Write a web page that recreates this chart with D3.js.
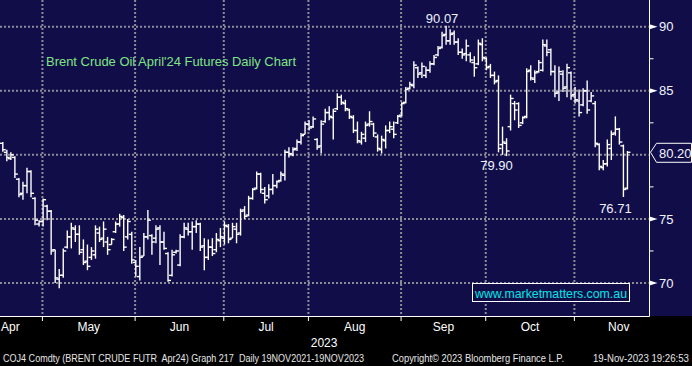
<!DOCTYPE html>
<html><head><meta charset="utf-8">
<script src="https://cdn.jsdelivr.net/npm/d3@7"></script>
<style>html,body{margin:0;padding:0;background:#000;overflow:hidden}text{white-space:pre}</style>
</head><body><svg id="c" width="692" height="366"></svg>
<script>
// ---- data ----
const firstDay = "2023-04-14", lastDay = "2023-11-17";
const opens  = [80.9,80.2,79.7,79.8,78.1,77.0,77.6,78.7,76.6,74.6,74.8,76.0,75.6,72.6,70.3,70.6,72.8,73.6,74.2,73.8,72.6,71.7,72.0,72.2,73.9,73.5,73.2,73.0,74.0,74.6,75.1,73.6,73.8,71.6,70.5,72.1,73.6,73.7,73.5,74.3,73.2,72.3,70.6,72.4,71.4,73.6,74.2,74.0,74.4,74.6,72.9,72.0,72.8,72.6,73.3,73.5,74.4,73.5,74.2,73.9,75.7,75.3,76.6,77.4,78.5,77.0,76.8,77.3,77.6,78.0,78.4,80.2,80.0,80.5,81.0,81.6,82.4,82.2,81.2,80.7,82.6,83.3,82.9,83.6,84.5,84.0,83.5,82.9,81.9,81.0,81.3,82.4,82.4,81.4,80.4,81.1,81.9,82.0,82.5,83.1,84.1,85.2,85.4,86.8,86.4,86.2,86.6,87.1,87.8,88.4,89.4,88.9,89.5,88.8,88.0,87.9,87.8,87.2,87.1,88.6,87.5,86.9,86.2,85.8,80.8,80.9,82.2,84.0,84.0,82.5,83.0,86.6,85.9,86.5,86.6,88.5,88.2,86.5,84.9,86.3,85.3,86.4,84.7,84.2,83.9,85.0,84.2,84.0,80.8,79.0,79.3,80.5,81.7,82.0,80.7,77.4];
const highs  = [81.0,80.4,80.2,79.9,78.2,77.9,79.0,78.8,76.7,74.9,76.6,76.1,75.7,72.6,71.1,72.7,74.1,74.7,74.5,74.5,73.4,73.0,72.8,74.5,74.4,74.8,73.6,73.5,74.8,75.4,75.3,75.0,74.0,71.8,72.8,73.9,75.7,73.8,74.5,74.5,74.0,72.4,72.6,72.6,73.8,74.7,74.7,74.8,74.9,74.7,73.5,73.4,73.5,73.9,74.3,74.8,74.6,74.7,74.7,75.8,76.0,76.8,77.4,78.7,78.6,77.5,77.7,78.5,78.0,78.7,80.4,80.6,80.6,81.2,81.7,82.6,82.7,83.0,81.3,82.7,83.6,83.8,83.6,84.8,84.7,84.3,83.6,83.1,82.6,81.8,82.6,83.4,82.5,81.6,81.5,82.3,82.6,82.6,83.1,84.1,85.3,85.7,87.3,86.9,87.2,86.9,87.3,87.8,88.5,89.6,90.07,89.8,89.7,89.1,88.3,89.0,88.0,87.7,89.0,89.1,87.6,87.1,86.5,86.2,82.2,81.3,84.7,84.2,84.1,83.0,86.75,87.0,86.6,87.4,89.0,89.0,88.3,87.0,86.9,86.6,87.1,86.5,85.3,85.1,85.2,85.8,84.9,84.2,80.9,79.6,81.2,81.9,83.0,82.1,80.8,80.3];
const lows   = [80.25,79.5,79.6,78.2,76.7,76.5,77.0,76.7,74.5,74.4,74.4,74.9,72.2,70.0,69.6,70.4,72.7,72.7,73.2,72.2,71.4,71.0,71.8,71.9,73.2,72.8,72.2,73.0,73.9,74.4,72.5,73.4,71.5,70.5,70.2,72.1,73.4,72.2,73.1,71.4,72.6,70.1,70.5,72.3,71.3,73.5,73.7,72.6,73.9,72.5,71.0,71.8,72.1,72.4,72.8,73.0,73.1,73.5,73.1,73.7,75.0,75.2,76.5,77.3,77.0,76.2,76.6,76.9,77.4,77.9,78.0,79.8,79.9,80.3,80.8,81.6,81.9,82.1,80.4,80.1,82.5,82.7,81.2,83.5,83.9,83.4,82.8,81.7,80.9,80.8,81.0,82.2,81.4,80.25,80.1,80.5,81.7,81.3,82.4,83.0,84.0,85.1,85.2,86.0,86.0,86.0,86.4,87.0,87.7,88.3,88.6,88.6,88.6,87.8,87.5,87.3,87.2,86.1,87.0,87.3,86.6,86.0,85.5,80.2,80.0,79.9,81.9,82.7,82.1,82.4,82.85,85.8,85.6,86.4,86.5,87.7,86.2,84.5,84.2,84.9,84.5,84.3,84.0,83.0,83.8,83.2,84.1,80.6,78.8,78.8,79.1,79.6,81.5,80.8,76.71,77.3];
const closes = [80.4,79.8,80.0,78.5,76.9,77.6,78.7,77.0,74.9,74.8,76.5,75.6,72.5,70.4,70.6,72.5,73.6,74.3,73.8,72.4,71.6,71.3,72.5,74.2,73.4,74.2,72.6,73.4,74.6,75.2,72.8,74.8,71.8,71.3,72.0,73.6,74.9,73.2,74.2,73.2,72.7,70.2,72.2,72.5,73.6,74.3,74.0,74.4,74.6,72.8,72.0,72.8,72.3,73.4,73.6,74.5,73.4,74.4,73.8,75.6,75.2,76.6,77.3,78.5,77.3,76.5,77.3,77.6,77.9,78.5,80.2,80.1,80.4,81.0,81.5,82.4,82.1,82.8,80.6,82.4,83.3,83.0,83.4,84.5,84.1,83.6,83.0,81.9,81.1,81.6,82.3,82.6,81.7,80.5,81.2,81.9,82.2,81.6,83.0,84.0,85.1,85.5,87.0,86.3,86.9,86.6,87.1,87.6,88.3,89.3,88.9,89.4,88.8,88.0,87.8,88.5,87.4,86.8,88.7,87.6,86.8,86.2,85.7,80.5,81.0,80.3,84.4,83.5,82.3,82.9,86.5,86.0,86.4,87.2,88.6,88.0,86.5,84.8,86.5,85.2,86.8,84.6,84.3,83.3,85.0,83.5,84.6,80.9,79.1,79.3,80.8,81.6,82.0,81.0,77.3,80.20];
const monthStarts = ["2023-04-01","2023-05-01","2023-06-01","2023-07-01","2023-08-01","2023-09-01","2023-10-01","2023-11-01","2023-12-01"];
const monthLabels = ["Apr","May","Jun","Jul","Aug","Sep","Oct","Nov"];
const yearLabel = "2023";
const yTicks = [70, 75, 80, 85, 90];
const yMinorTicks = [72.5, 77.5, 82.5, 87.5];
const lastPrice = 80.20;
const annoText  = ["90.07", "79.90", "76.71"];
const annoDate  = ["2023-09-15", "2023-10-06", "2023-11-16"];
const annoValue = [90.07, 79.90, 76.71];
const titleText = "Brent Crude Oil April'24 Futures Daily Chart";
const watermark = "www.marketmatters.com.au";
const footerLeft = "COJ4 Comdty (BRENT CRUDE FUTR  Apr24) Graph 217  Daily 19NOV2021-19NOV2023";
const footerMid = "Copyright\u00A9 2023 Bloomberg Finance L.P.";
const footerRight = "19-Nov-2023 19:26:53";

// ---- layout ----
const W = 692, H = 366, plotBottom = 316, axisX = 649.5;
const NAVY = "#100d48", GRID = "#8c8c98";
const parse = d3.timeParse("%Y-%m-%d");
const isWk = d => d.getDay() !== 0 && d.getDay() !== 6;
const start = parse(firstDay);
const days = d3.timeDay.range(start, d3.timeDay.offset(parse(lastDay), 1)).filter(isWk);
const dayKey = d3.timeFormat("%Y-%m-%d");
const idxOf = new Map(days.map((d, i) => [dayKey(d), i]));
// weekday index relative to first day (can be negative / beyond data)
function wkIndex(date) {
  if (date >= start) return d3.timeDay.range(start, date).filter(isWk).length;
  return -d3.timeDay.range(date, start).filter(isWk).length;
}
const n = days.length;
const x = d3.scaleLinear().domain([0, n - 1]).range([2.8, 2.8 + 4.03 * (n - 1)]);
const y = d3.scaleLinear().domain([70, 90]).range([283, 26.7]);
const gridShift = -4.7;

const svg = d3.select("#c");
svg.append("rect").attr("width", W).attr("height", plotBottom).attr("fill", NAVY);
svg.append("rect").attr("y", plotBottom).attr("width", W).attr("height", H - plotBottom).attr("fill", "#000");

// month boundaries
const bounds = monthStarts.map(s => x(wkIndex(parse(s))) + gridShift);

// grid
const grid = svg.append("g").attr("stroke", GRID).attr("stroke-width", 2).attr("stroke-dasharray", "2,2");
yTicks.forEach(v => grid.append("line").attr("x1", 0).attr("x2", axisX - 1).attr("y1", y(v)).attr("y2", y(v)));
bounds.slice(1, -1).forEach(bx => grid.append("line").attr("x1", bx).attr("x2", bx).attr("y1", 0).attr("y2", plotBottom));

// OHLC bars
const bars = svg.append("g").attr("stroke", "#fff").attr("stroke-width", 1.4);
d3.range(n).forEach(i => {
  const cx = x(i);
  const g = bars.append("g");
  g.append("line").attr("x1", cx).attr("x2", cx).attr("y1", y(highs[i])).attr("y2", y(lows[i]));
  g.append("line").attr("x1", cx - 3).attr("x2", cx).attr("y1", y(opens[i])).attr("y2", y(opens[i]));
  g.append("line").attr("x1", cx).attr("x2", cx + 3).attr("y1", y(closes[i])).attr("y2", y(closes[i]));
});

// annotations
const annoDx = [-4, -10, -8], annoDy = [-3, 14, 16];
annoText.forEach((t, k) => {
  svg.append("text").attr("x", x(idxOf.get(annoDate[k])) + annoDx[k]).attr("y", y(annoValue[k]) + annoDy[k])
    .attr("text-anchor", "middle").attr("fill", "#eef2ff")
    .attr("font-family", "Liberation Sans, Arial, sans-serif").attr("font-size", 13).text(t);
});

// title
svg.append("text").attr("x", 46).attr("y", 66).attr("fill", "#80e484")
  .attr("font-family", "Liberation Sans, Arial, sans-serif").attr("font-size", 13)
  .attr("textLength", 250).attr("lengthAdjust", "spacingAndGlyphs").text(titleText);

// watermark
svg.append("rect").attr("x", 472.5).attr("y", 283.5).attr("width", 157).attr("height", 18)
  .attr("fill", NAVY).attr("stroke", "#fff").attr("stroke-width", 1);
svg.append("text").attr("x", 475).attr("y", 297.5).attr("fill", "#00e6e6")
  .attr("font-family", "Liberation Sans, Arial, sans-serif").attr("font-size", 13)
  .attr("textLength", 152).attr("lengthAdjust", "spacingAndGlyphs").text(watermark);

// right axis
svg.append("line").attr("x1", axisX).attr("x2", axisX).attr("y1", 0).attr("y2", plotBottom + 0.5)
  .attr("stroke", "#fff").attr("stroke-width", 1);
yMinorTicks.forEach(v => svg.append("line").attr("x1", axisX).attr("x2", axisX + 4)
  .attr("y1", y(v)).attr("y2", y(v)).attr("stroke", "#fff").attr("stroke-width", 1));
yTicks.filter(v => Math.abs(v - lastPrice) > 2).forEach(v => {
  const yy = y(v);
  svg.append("path").attr("d", `M${axisX},${yy - 2.5}L${axisX + 8},${yy}L${axisX},${yy + 2.5}Z`).attr("fill", "#fff");
  svg.append("text").attr("x", 659).attr("y", yy).attr("dy", "0.36em").attr("fill", "#f2f4ff")
    .attr("font-family", "Liberation Sans, Arial, sans-serif").attr("font-size", 13).text(v);
});
// last price box
const ly = y(lastPrice);
svg.append("path").attr("d", `M${axisX + 1},${ly}L${axisX + 7},${ly - 9}L${W - 0.5},${ly - 9}L${W - 0.5},${ly + 10}L${axisX + 7},${ly + 10}Z`)
  .attr("fill", NAVY).attr("stroke", "#fff").attr("stroke-width", 1);
svg.append("text").attr("x", 659).attr("y", ly + 1).attr("dy", "0.36em").attr("fill", "#f2f4ff")
  .attr("font-family", "Liberation Sans, Arial, sans-serif").attr("font-size", 13).text(lastPrice.toFixed(2));

// bottom axis
svg.append("line").attr("x1", 0).attr("x2", axisX).attr("y1", plotBottom + 0.5).attr("y2", plotBottom + 0.5)
  .attr("stroke", "#fff").attr("stroke-width", 1);
bounds.slice(1, -1).forEach(bx => svg.append("line").attr("x1", bx).attr("x2", bx)
  .attr("y1", plotBottom).attr("y2", plotBottom + 5).attr("stroke", "#fff").attr("stroke-width", 1));
monthLabels.forEach((m, k) => {
  const mid = (bounds[k] + bounds[k + 1]) / 2;
  const t = svg.append("text").attr("y", 331).attr("fill", "#fff")
    .attr("font-family", "Liberation Sans, Arial, sans-serif").attr("font-size", 12).text(m);
  if (mid < 12) t.attr("x", 1).attr("text-anchor", "start");
  else t.attr("x", mid).attr("text-anchor", "middle");
});
svg.append("text").attr("x", x((n - 1) / 2) + 9).attr("y", 346.5).attr("text-anchor", "middle").attr("fill", "#fff")
  .attr("font-family", "Liberation Sans, Arial, sans-serif").attr("font-size", 12).text(yearLabel);

// footer
const foot = [[footerLeft, 3, 361], [footerMid, 392, 172], [footerRight, 593, 96]];
foot.forEach(([t, fx, len]) => svg.append("text").attr("x", fx).attr("y", 362).attr("fill", "#e6e6e6")
  .attr("font-family", "Liberation Sans, Arial, sans-serif").attr("font-size", 10)
  .attr("textLength", len).attr("lengthAdjust", "spacingAndGlyphs").text(t));
</script>
</body></html>
